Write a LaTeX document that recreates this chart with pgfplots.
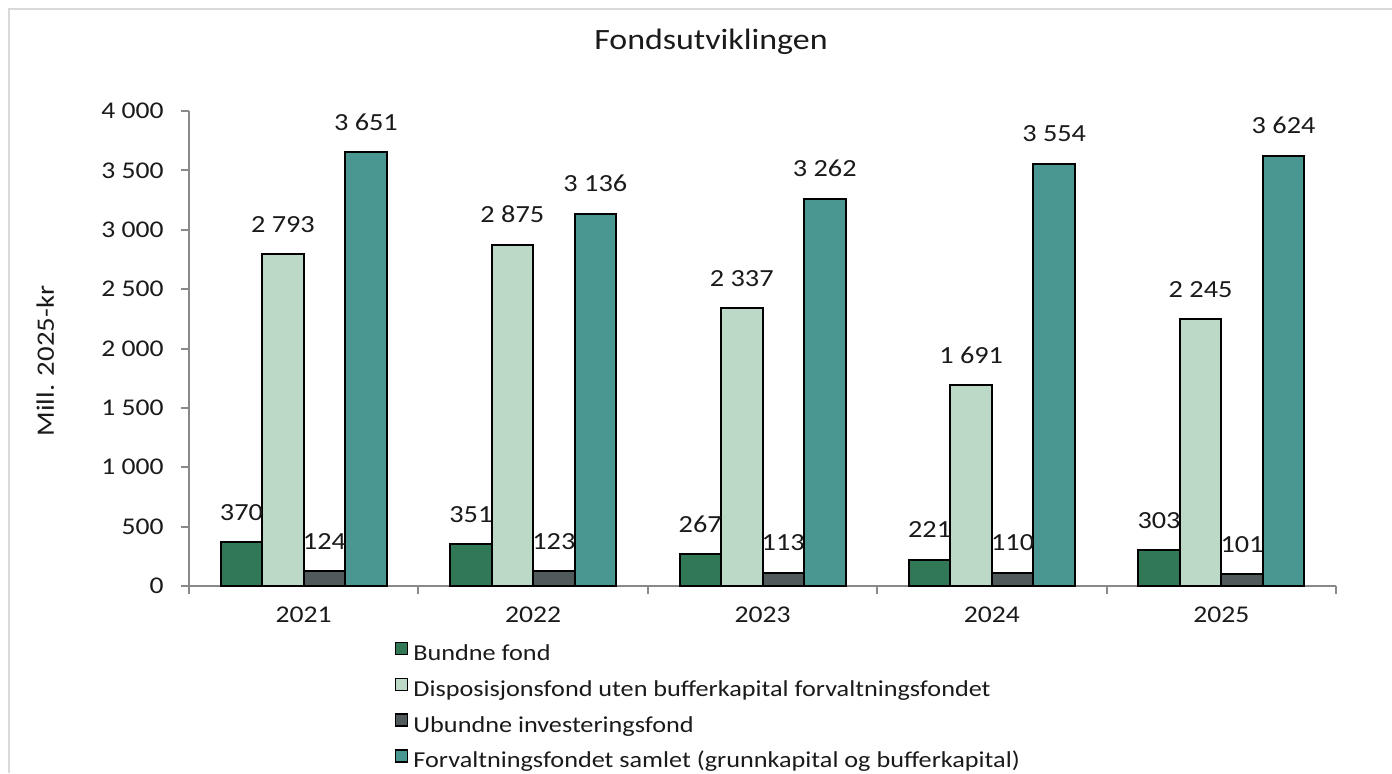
\documentclass[border=0pt]{standalone}
\usepackage{fontspec}
\setmainfont{Carlito}[FakeStretch=1.15]
\usepackage{pgfplots}
\pgfplotsset{compat=1.18}
\definecolor{c1}{HTML}{317856}
\definecolor{c2}{HTML}{BCD9C7}
\definecolor{c3}{HTML}{505A5A}
\definecolor{c4}{HTML}{4A9690}
\definecolor{axisgray}{HTML}{898989}
\definecolor{framegray}{HTML}{D9D9D9}
\definecolor{textc}{HTML}{1A1A1A}
\pgfkeys{/pgf/number format/.cd, 1000 sep={\ }, assume math mode=true}
\begin{document}
\begin{tikzpicture}
\useasboundingbox (0,0) rectangle (696pt,386.5pt);
\draw[framegray, line width=1pt] (4.5pt,0pt) -- (4.5pt,382pt) -- (696pt,382pt);
\begin{axis}[
  at={(94.5pt,93.5pt)}, anchor=south west,
  scale only axis, width=573.5pt, height=237.5pt,
  font=\fontsize{12}{14}\selectfont,
  ybar=0pt, bar width=20.75pt,
  xmin=-0.5, xmax=4.5, ymin=0, ymax=4000,
  scaled y ticks=false,
  xtick={0,1,2,3,4},
  xticklabels={2021,2022,2023,2024,2025},
  minor xtick={-0.5,0.5,1.5,2.5,3.5,4.5},
  ytick={0,500,1000,1500,2000,2500,3000,3500,4000},
  axis lines*=left,
  axis line style={draw=axisgray, line width=1pt, -},
  tick style={draw=axisgray, line width=1pt},
  major x tick style={draw=none},
  tick align=outside,
  major tick length=4pt, minor tick length=4pt,
  xticklabel style={anchor=base, inner sep=0pt, yshift=-14pt, text=textc},
  yticklabel style={anchor=east, inner sep=0pt, xshift=-8.5pt, text=textc},
  ylabel={Mill. 2025-kr},
  ylabel style={at={(axis description cs:-0.1177,0.4737)}, anchor=base, font=\fontsize{12.5}{14}\selectfont, text=textc, inner sep=0pt},
  title={Fondsutviklingen},
  title style={at={(axis description cs:0.4551,1.1032)}, anchor=base, font=\fontsize{14.75}{17}\selectfont, text=textc, inner sep=0pt},
  clip=false,
  nodes near coords,
  nodes near coords style={font=\fontsize{12.3}{14}\selectfont, anchor=base, yshift=11pt, inner sep=0pt, text=textc},
  every axis plot post/.append style={draw=black, line width=1pt,
    legend image code/.code={\draw[##1, line width=0.7pt] (0pt,0pt) rectangle (6pt,6pt);}},
  legend cell align=left,
  legend style={at={(axis description cs:0.1796,-0.1179)}, anchor=north west,
    draw=none, fill=none, inner sep=0pt, outer sep=0pt,
    row sep=5.5pt, column sep=2.5pt,
    font=\fontsize{11.4}{14}\selectfont, text=textc,
    nodes={inner sep=0pt, text height=9pt, text depth=3pt}},
]
\addplot[fill=c1] coordinates {(0,370) (1,351) (2,267) (3,221) (4,303)};
\addplot[fill=c2] coordinates {(0,2793) (1,2875) (2,2337) (3,1691) (4,2245)};
\addplot[fill=c3] coordinates {(0,124) (1,123) (2,113) (3,110) (4,101)};
\addplot[fill=c4] coordinates {(0,3651) (1,3136) (2,3262) (3,3554) (4,3624)};
\legend{Bundne fond, Disposisjonsfond uten bufferkapital forvaltningsfondet, Ubundne investeringsfond, Forvaltningsfondet samlet (grunnkapital og bufferkapital)}
\end{axis}
\end{tikzpicture}
\end{document}
